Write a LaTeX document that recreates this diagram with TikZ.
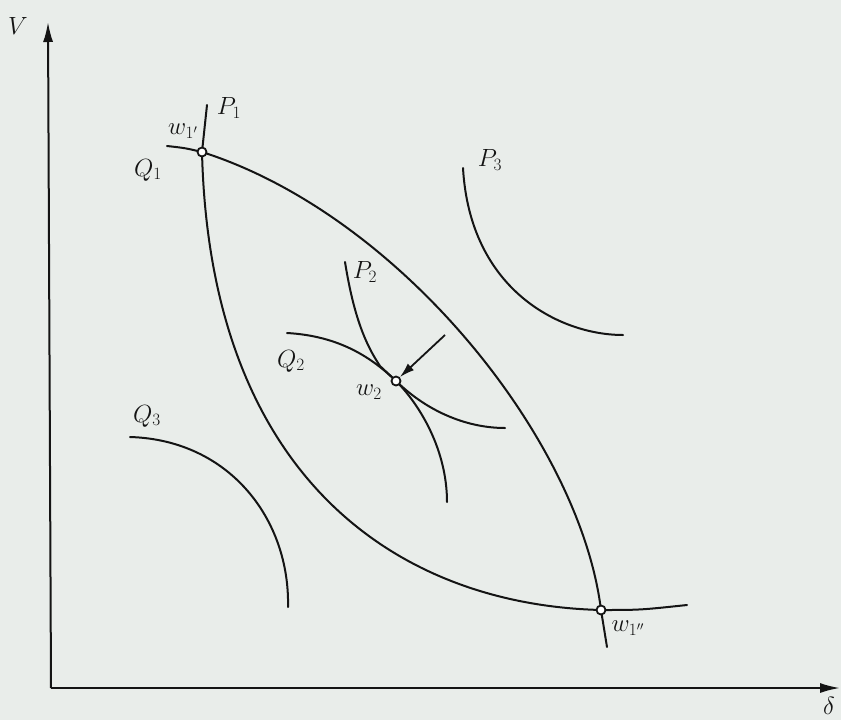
\documentclass[tikz,border=0pt]{standalone}
\usepackage{tikz}
\usetikzlibrary{arrows.meta, positioning}
\definecolor{paper}{RGB}{233,237,234}
\definecolor{ink}{RGB}{20,20,20}
\tikzstyle{curve}=[line width=2pt, color=ink, line cap=round]
\tikzstyle{axarr}=[-{Latex[length=20pt,width=10pt]}, line width=2pt, color=ink]
\tikzstyle{garr}=[-{Latex[length=15pt,width=9pt]}, line width=1.8pt, color=ink]
\tikzstyle{opt}=[circle, draw=ink, fill=white, line width=1.8pt,
  inner sep=0pt, minimum size=9pt]
\tikzstyle{lbl}=[font=\fontsize{23}{27}\selectfont, text=ink, inner sep=1pt]

\begin{document}
\begin{tikzpicture}[x=1pt, y=-1pt]
    \fill[paper] (0,0) rectangle (841,720);
    \useasboundingbox (0,0) rectangle (841,720);
    % axes
    \coordinate (orig) at (51,688);
    \coordinate (vtop) at (48,22);
    \coordinate (dend) at (840,688);
    \draw[axarr] (orig)--(vtop);
    \draw[axarr] (orig)--(dend);
    \node[lbl] (vlab) at (18,26) {$V$};
    \node[lbl] (dlab) at (829,706) {$\delta$};
    % operating points
    \coordinate (w1a) at (202,152);
    \coordinate (w2) at (396,381);
    \coordinate (w1b) at (601,610);
    % Q1 and P1
    \draw[curve] (167,146) .. controls (185,148) .. (w1a)
      .. controls (400,215) and (580,440) .. (w1b) -- (607,647);
    \draw[curve] (207,105) -- (w1a)
      .. controls (210,480) and (400,605) .. (w1b)
      .. controls (640,610) .. (687,605);
    % Q2 and P2
    \draw[curve] (287,333) .. controls (340,336) and (372,358) .. (w2)
      .. controls (430,414) and (470,428) .. (505,428);
    \draw[curve] (345,262) .. controls (354,318) and (366,345) .. (380,366)
      -- (w2) .. controls (420,405) and (447,450) .. (447,502);
    % P3 and Q3
    \draw[curve] (463,168) .. controls (470,290) and (560,335) .. (623,335);
    \draw[curve] (130,437) .. controls (230,440) and (290,520) .. (288,607);
    \node[opt] (pw1a) at (w1a) {};
    \node[opt] (pw2) at (w2) {};
    \node[opt] (pw1b) at (w1b) {};
    % pointer to w2
    \coordinate (ptail) at (445,335);
    \draw[garr] (ptail)--(pw2.north east);
    % labels
    \node[lbl] (lp1) at (229,108) {$P_1$};
    \node[lbl] (lq1) at (148,170) {$Q_1$};
    \node[lbl] (lw1a) at (183,131) {$w_{1'}$};
    \node[lbl] (lp2) at (365,272) {$P_2$};
    \node[lbl] (lq2) at (291,361) {$Q_2$};
    \node[lbl] (lw2) at (369,392) {$w_2$};
    \node[lbl] (lp3) at (490,160) {$P_3$};
    \node[lbl] (lq3) at (147,416) {$Q_3$};
    \node[lbl] (lw1b) at (628,628) {$w_{1''}$};
  \end{tikzpicture}
\end{document}
